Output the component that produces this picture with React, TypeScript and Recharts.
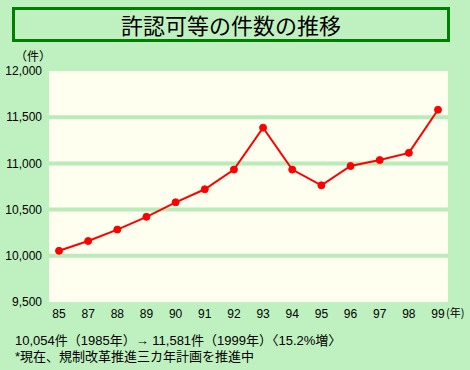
import React from "react";
import { LineChart, Line, XAxis, YAxis, CartesianGrid } from "recharts";

const years = ["85", "87", "88", "89", "90", "91", "92", "93", "94", "95", "96", "97", "98", "99"];
const counts = [10054, 10160, 10284, 10422, 10579, 10720, 10933, 11387, 10933, 10763, 10972, 11036, 11114, 11581];
const yTicks = [9500, 10000, 10500, 11000, 11500, 12000];
const gridValues = [10000, 10500, 11000, 11500];
const title = "許認可等の件数の推移";
const unitY = "（件）";
const unitX = "(年)";
const notes = [
  "10,054件（1985年）→ 11,581件（1999年）〈15.2%増〉",
  "*現在、規制改革推進三カ年計画を推進中",
];

const data = years.map((y, i) => ({ year: y, count: counts[i] }));

const BG = "#bff0bf";
const GRID = "#b8ecb8";
const PLOT = "#fffff0";
const TICK_FONT = "'Liberation Sans', Arial, sans-serif";
const CJK_FONT = "'Noto Sans CJK JP', 'Noto Sans', sans-serif";
const MIX_FONT = "'Liberation Sans', 'Noto Sans CJK JP', sans-serif";

function XTick(props: any) {
  const { x, y, payload, index } = props;
  const isLast = index === years.length - 1;
  return (
    <g>
      <text x={x} y={y} dy="0.71em" textAnchor="middle" fontSize={12} fontFamily={TICK_FONT} fill="#000">
        {payload.value}
      </text>
      {isLast && (
        <text x={x + 8} y={y} dy="0.71em" textAnchor="start" fontSize={11} fontFamily={CJK_FONT} fill="#000">
          {unitX}
        </text>
      )}
    </g>
  );
}

export default function App() {
  return (
    <div
      style={{
        position: "absolute",
        left: 0,
        top: 0,
        width: 470,
        height: 370,
        background: BG,
        overflow: "hidden",
      }}
    >
      <div
        style={{
          position: "absolute",
          left: 12,
          top: 7,
          width: 438,
          height: 35,
          boxSizing: "border-box",
          border: "3px solid #008000",
          fontFamily: CJK_FONT,
          fontSize: 22,
          lineHeight: "29px",
          textAlign: "center",
          color: "#000",
        }}
      >
        {title}
      </div>
      <div
        style={{
          position: "absolute",
          left: 15,
          top: 48,
          fontFamily: CJK_FONT,
          fontSize: 12,
          lineHeight: "15px",
          color: "#000",
        }}
      >
        {unitY}
      </div>
      <div style={{ position: "absolute", left: 0, top: 0 }}>
        <LineChart
          width={470}
          height={370}
          data={data}
          margin={{ top: 71, right: 22, bottom: 48, left: 0 }}
        >
          <CartesianGrid
            vertical={false}
            horizontalValues={gridValues}
            fill={PLOT}
            fillOpacity={1}
            stroke={GRID}
            strokeWidth={4}
          />
          <XAxis
            dataKey="year"
            type="category"
            padding={{ left: 10, right: 10 }}
            axisLine={false}
            tickLine={false}
            tickSize={5}
            tickMargin={2}
            interval={0}
            height={20}
            tick={<XTick />}
          />
          <YAxis
            type="number"
            domain={[9500, 12000]}
            ticks={yTicks}
            width={49}
            axisLine={false}
            tickLine={false}
            tickSize={5}
            tickMargin={2}
            interval={0}
            tickFormatter={(v: number) => v.toLocaleString("en-US")}
            tick={{ fontSize: 12, fontFamily: TICK_FONT, fill: "#000" }}
          />
          <Line
            type="linear"
            dataKey="count"
            stroke="#ff0000"
            strokeWidth={2}
            dot={{ r: 3.5, fill: "#ff0000", stroke: "#ff0000", strokeWidth: 1 }}
            activeDot={false}
            isAnimationActive={false}
          />
        </LineChart>
      </div>
      {notes.map((n, i) => (
        <div
          key={n}
          style={{
            position: "absolute",
            left: 15,
            top: 333 + i * 16,
            fontFamily: MIX_FONT,
            fontSize: 13,
            lineHeight: "15px",
            color: "#000",
            whiteSpace: "nowrap",
          }}
        >
          {n}
        </div>
      ))}
    </div>
  );
}
